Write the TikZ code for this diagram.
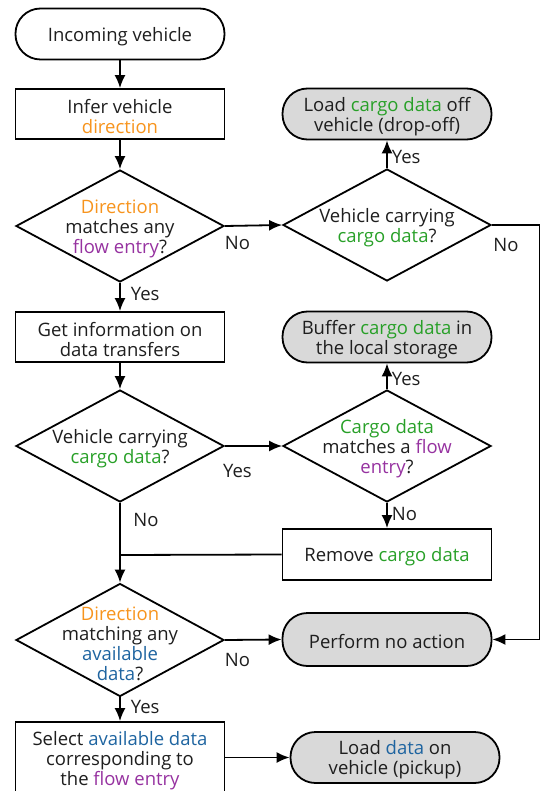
\documentclass[tikz,border=0pt]{standalone}
\usepackage{fontspec}
\setmainfont{Open Sans}
\usetikzlibrary{shapes.geometric,arrows.meta}
\definecolor{cor}{RGB}{247,148,29}
\definecolor{cgr}{RGB}{40,160,40}
\definecolor{cpu}{RGB}{150,50,160}
\definecolor{cbl}{RGB}{30,100,160}
\definecolor{gfill}{RGB}{217,217,217}
\definecolor{tcol}{RGB}{30,30,30}
\begin{document}
\begin{tikzpicture}[x=1pt,y=-1pt, line width=1.8pt,
  font=\fontsize{18.5}{20}\selectfont, text=tcol,
  box/.style={draw, rectangle, minimum width=209pt, minimum height=50pt, inner sep=0pt},
  term/.style={draw, rectangle, rounded corners=25pt, minimum width=209pt, minimum height=51pt, inner sep=0pt},
  gterm/.style={term, fill=gfill},
  dia/.style={draw, diamond, minimum width=208pt, minimum height=112pt, inner sep=0pt},
  txt/.style={label={[align=center, inner sep=0pt, yshift=-2.5pt]center:{#1}}},
  lab/.style={inner sep=0pt},
  arr/.style={-{Latex[length=13pt,width=11pt]}}]
\useasboundingbox (0,0) rectangle (540,791);

\node[term, txt={Incoming vehicle}] (start) at (120,34) {};
\node[box, txt={Infer vehicle\\\textcolor{cor}{direction}}] (infer) at (120,114) {};
\node[dia, txt={\textcolor{cor}{Direction}\\matches any\\\textcolor{cpu}{flow entry}?}] (d1) at (120,226) {};
\node[dia, txt={Vehicle carrying\\\textcolor{cgr}{cargo data}?}] (d2) at (387,225) {};
\node[gterm, txt={Load \textcolor{cgr}{cargo data} off\\vehicle (drop-off)}] (load) at (387,114) {};
\node[box, txt={Get information on\\data transfers}] (info) at (120,337) {};
\node[gterm, txt={Buffer \textcolor{cgr}{cargo data} in\\the local storage}] (buf) at (387,337) {};
\node[dia, txt={Vehicle carrying\\\textcolor{cgr}{cargo data}?}] (d3) at (120,446) {};
\node[dia, txt={\textcolor{cgr}{Cargo data}\\matches a \textcolor{cpu}{flow}\\\textcolor{cpu}{entry}?}] (d4) at (387,446) {};
\node[box, minimum height=51pt, txt={Remove \textcolor{cgr}{cargo data}}] (rem) at (387,554.5) {};
\node[dia, minimum height=113pt, label={[align=center, inner sep=0pt, yshift=-4pt]center:{\textcolor{cor}{Direction}\\matching any\\\textcolor{cbl}{available}\\\textcolor{cbl}{data}?}}] (d5) at (120,640) {};
\node[gterm, minimum height=53pt, txt={Perform no action}] (none) at (387,639.5) {};
\node[box, minimum height=72pt, txt={Select \textcolor{cbl}{available data}\\corresponding to\\the \textcolor{cpu}{flow entry}}] (sel) at (120,758) {};
\node[gterm, txt={Load \textcolor{cbl}{data} on\\vehicle (pickup)}] (pick) at (395,757.5) {};

\coordinate (r1) at (539.5,225);
\coordinate (r2) at (539.5,639.5);
\coordinate (j) at (120,555);

\draw[arr] (start) -- (infer);
\draw[arr] (infer) -- (d1);
\draw[arr] (d1) -- (info) node[lab, pos=0.4, right=10pt] (y1) {Yes};
\draw[arr] (d1.east) -- (d2.west) node[lab, pos=0.22, below=10pt] (n1) {No};
\draw[arr] (d2.north) -- (load.south) node[lab, pos=0.4, right=4pt] (y2) {Yes};
\draw[arr] (d2.east) -- (r1) -- (r2) -- (none.east);
\node[lab] (n2) at (506,245) {No};
\draw[arr] (info) -- (d3);
\draw[arr] (d3.east) -- (d4.west) node[lab, pos=0.22, below=17pt] (y3) {Yes};
\draw[arr] (d4.north) -- (buf.south) node[lab, pos=0.4, right=4pt] (y4) {Yes};
\draw[arr] (d4.south) -- (rem.north) node[lab, pos=0.45, right=4pt] (n3) {No};
\draw[arr] (d3.south) -- (d5.north);
\node[lab] (n4) at (146,520) {No};
\draw (rem.west) -- (j);
\draw[arr] (d5.east) -- (none.west) node[lab, pos=0.22, below=12pt] (n5) {No};
\draw[arr] (d5.south) -- (sel.north) node[lab, pos=0.4, right=10pt] (y5) {Yes};
\draw[arr] (sel.east |- pick.west) -- (pick.west);
\end{tikzpicture}
\end{document}
